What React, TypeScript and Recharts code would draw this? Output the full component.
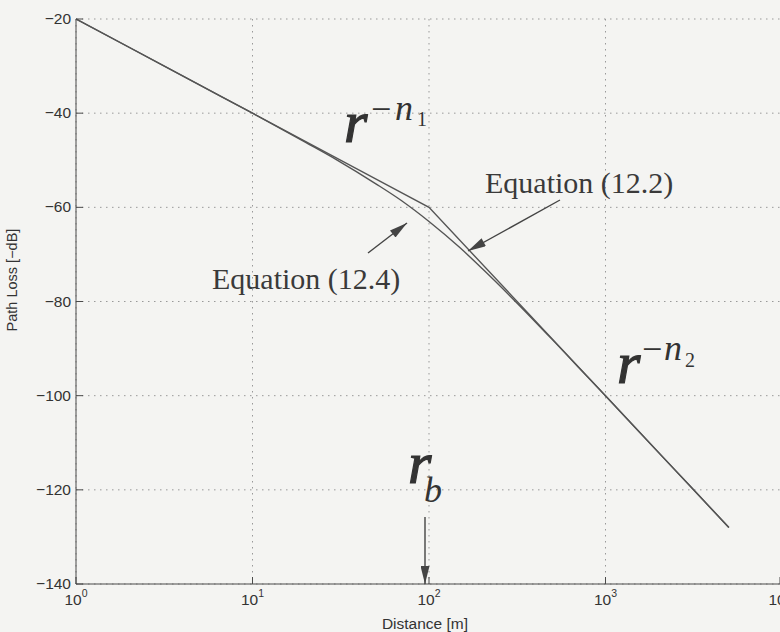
import React from 'react';
import { LineChart, Line, XAxis, YAxis, CartesianGrid } from 'recharts';

// Distance [m] and path loss [dB] for the smooth model (Eq. 12.4)
const distancesSmooth = [1, 2, 5, 10, 20, 30, 50, 70, 100, 150, 200, 300, 500, 700, 1000, 2000, 3000, 5000];
const lossSmooth = [-20, -26, -34, -40, -46.2, -49.9, -55, -58.6, -63, -68.6, -73, -79.5, -88.1, -93.9, -100, -112.1, -119.1, -128];

// Two-slope breakpoint model (Eq. 12.2)
const distancesBreak = [1, 100, 5000];
const lossBreak = [-20, -60, -128];

const xTicks = [1, 10, 100, 1000, 10000];
const yTicks = [-140, -120, -100, -80, -60, -40, -20];

const smoothData = distancesSmooth.map((r, i) => ({ r, loss: lossSmooth[i] }));
const breakData = distancesBreak.map((r, i) => ({ r, loss: lossBreak[i] }));

const INK = '#4a4a4a';
const SANS = '"Liberation Sans", Arial, Helvetica, sans-serif';
const SERIF = '"Liberation Serif", "Times New Roman", serif';
const TICK = 7;

const LeftTick = (props: any) => {
    const { x, y, payload } = props;
    return (
        <g>
            <line x1={x} x2={x + TICK} y1={y} y2={y} stroke={INK} />
            <text x={x - 5} y={y} dy={5} textAnchor="end" fontSize={15.5} fontFamily={SANS} fill="#333">
                {String(payload.value).replace('-', '\u2212')}
            </text>
        </g>
    );
};

const RightTick = (props: any) => {
    const { x, y } = props;
    return <line x1={x} x2={x - TICK} y1={y} y2={y} stroke={INK} />;
};

const BottomTick = (props: any) => {
    const { x, y, payload } = props;
    const exp = Math.round(Math.log10(payload.value));
    return (
        <g>
            <line x1={x} x2={x} y1={y} y2={y - TICK} stroke={INK} />
            <text x={x} y={y + 21} textAnchor="middle" fontSize={15.5} fontFamily={SANS} fill="#333">
                10<tspan dy={-8} fontSize={10.5}>{exp}</tspan>
            </text>
        </g>
    );
};

const TopTick = (props: any) => {
    const { x, y } = props;
    return <line x1={x} x2={x} y1={y} y2={y + TICK} stroke={INK} />;
};

const Annotations = () => (
    <svg width={780} height={632} style={{ position: 'absolute', left: 0, top: 0, pointerEvents: 'none' }}>
        <defs>
            <marker id="head" viewBox="0 0 20 10" refX={20} refY={5} markerWidth={20} markerHeight={9}
                markerUnits="userSpaceOnUse" orient="auto">
                <path d="M0,0 L20,5 L0,10 z" fill="#444" />
            </marker>
        </defs>

        {/* axis titles */}
        <text x={0} y={0} transform="translate(17,280) rotate(-90)" textAnchor="middle"
            fontSize={14.5} fontFamily={SANS} fill="#333">Path Loss [−dB]</text>
        <text x={425} y={629} textAnchor="middle" fontSize={15.5} fontFamily={SANS} fill="#333">Distance [m]</text>

        {/* slope labels */}
        <g fontFamily={SERIF} fill="#333" fontStyle="italic">
            <text x={344} y={142} fontSize={60} stroke="#333" strokeWidth={1.2}>r</text>
            <text x={371} y={121} fontSize={36} fontStyle="normal">−</text>
            <text x={395} y={120} fontSize={36}>n</text>
            <text x={417} y={126} fontSize={20} fontStyle="normal">1</text>

            <text x={617} y={383} fontSize={60} stroke="#333" strokeWidth={1.2}>r</text>
            <text x={642} y={361} fontSize={36} fontStyle="normal">−</text>
            <text x={664} y={360} fontSize={36}>n</text>
            <text x={685} y={367} fontSize={20} fontStyle="normal">2</text>

            <text x={408} y={483} fontSize={60} stroke="#333" strokeWidth={1.2}>r</text>
            <text x={424} y={502} fontSize={36}>b</text>
        </g>

        {/* equation labels and pointers */}
        <g fontFamily={SERIF} fill="#3a3a3a" fontSize={30}>
            <text x={485} y={193}>Equation (12.2)</text>
            <text x={212} y={289}>Equation (12.4)</text>
        </g>
        <line x1={560} y1={200} x2={468} y2={251} stroke="#444" strokeWidth={1.4} markerEnd="url(#head)" />
        <line x1={368} y1={253} x2={407} y2={223} stroke="#444" strokeWidth={1.4} markerEnd="url(#head)" />
        <line x1={425} y1={517} x2={425} y2={584} stroke="#444" strokeWidth={1.4} markerEnd="url(#head)" />
    </svg>
);

export default function App() {
    return (
        <div style={{ position: 'absolute', left: 0, top: 0, width: 780, height: 632, overflow: 'hidden', background: '#f4f4f2' }}>
            <LineChart width={800} height={632} margin={{ top: 19, right: 18, left: 0, bottom: 0 }}>
                <CartesianGrid stroke="#999" strokeDasharray="1.5 4.5" />
                <XAxis dataKey="r" type="number" scale="log" domain={[1, 10000]} ticks={xTicks}
                    allowDataOverflow height={48} stroke={INK} tickLine={false} tickSize={0} tickMargin={0}
                    tick={BottomTick} />
                <XAxis xAxisId="top" orientation="top" type="number" scale="log" domain={[1, 10000]}
                    ticks={xTicks} allowDataOverflow height={0} stroke={INK} tickLine={false} tickSize={0}
                    tickMargin={0} tick={TopTick} />
                <YAxis type="number" domain={[-140, -20]} ticks={yTicks} width={76} stroke={INK}
                    tickLine={false} tickSize={0} tickMargin={0} tick={LeftTick} />
                <YAxis yAxisId="right" orientation="right" type="number" domain={[-140, -20]} ticks={yTicks}
                    width={0} stroke={INK} tickLine={false} tickSize={0} tickMargin={0} tick={RightTick} />
                <Line data={smoothData} dataKey="loss" type="monotone" stroke="#555" strokeWidth={1.4}
                    dot={false} isAnimationActive={false} />
                <Line data={breakData} dataKey="loss" type="linear" stroke="#555" strokeWidth={1.4}
                    dot={false} isAnimationActive={false} />
            </LineChart>
            <Annotations />
        </div>
    );
}
